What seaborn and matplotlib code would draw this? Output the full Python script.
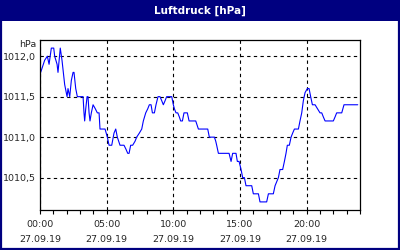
import matplotlib
matplotlib.use("Agg")
import matplotlib.pyplot as plt
import seaborn as sns
import pandas as pd
from matplotlib.patches import Rectangle
from matplotlib.ticker import MultipleLocator

hours = [0.05, 0.35, 0.55, 0.68, 0.85, 1.03, 1.1, 1.28, 1.35, 1.52, 1.65, 1.75, 1.85,
         2.03, 2.1, 2.23, 2.35, 2.48, 2.55, 2.68, 2.8, 3.23, 3.3, 3.35, 3.43, 3.53, 3.6,
         3.68, 3.75, 3.85, 3.98, 4.15, 4.3, 4.43, 4.5, 4.88, 5.05, 5.18, 5.38, 5.55, 5.68,
         5.8, 6.0, 6.3, 6.45, 6.58, 6.68, 6.8, 6.95, 7.13, 7.25, 7.45, 7.63, 7.75, 7.93,
         8.08, 8.2, 8.33, 8.43, 8.58, 8.7, 8.85, 9.0, 9.13, 9.25, 9.38, 9.5, 9.88, 10.0,
         10.08, 10.2, 10.33, 10.45, 10.55, 10.68, 10.8, 11.05, 11.18, 11.68, 11.78, 11.88,
         12.58, 12.7, 13.08, 13.18, 13.25, 13.38, 14.18, 14.33, 14.45, 14.7, 14.8, 14.93,
         15.08, 15.2, 15.33, 15.45, 15.88, 16.0, 16.38, 16.5, 17.0, 17.13, 17.5, 17.63,
         17.88, 18.0, 18.2, 18.33, 18.45, 18.55, 18.7, 18.83, 18.95, 19.08, 19.38, 19.5,
         19.63, 19.75, 19.88, 20.05, 20.18, 20.3, 20.43, 20.63, 21.0, 21.13, 21.25, 21.38,
         22.0, 22.13, 22.25, 22.63, 22.8, 23.83]
pressure = [1011.8, 1011.95, 1012.0, 1011.9, 1012.1, 1012.1, 1012.0, 1011.9, 1011.8, 1012.1,
            1011.95, 1011.8, 1011.65, 1011.5, 1011.6, 1011.5, 1011.7, 1011.8, 1011.8, 1011.6,
            1011.5, 1011.5, 1011.3, 1011.2, 1011.35, 1011.5, 1011.5, 1011.3, 1011.2, 1011.3,
            1011.4, 1011.35, 1011.3, 1011.3, 1011.1, 1011.1, 1011.0, 1010.9, 1010.9, 1011.05,
            1011.1, 1011.0, 1010.9, 1010.9, 1010.85, 1010.8, 1010.8, 1010.9, 1010.9, 1010.95,
            1011.0, 1011.05, 1011.1, 1011.2, 1011.3, 1011.35, 1011.4, 1011.4, 1011.3, 1011.3,
            1011.4, 1011.5, 1011.5, 1011.45, 1011.4, 1011.45, 1011.5, 1011.5, 1011.4, 1011.35,
            1011.3, 1011.3, 1011.25, 1011.2, 1011.2, 1011.3, 1011.3, 1011.2, 1011.2, 1011.15,
            1011.1, 1011.1, 1011.0, 1011.0, 1010.95, 1010.9, 1010.8, 1010.8, 1010.7, 1010.8,
            1010.8, 1010.7, 1010.7, 1010.6, 1010.5, 1010.5, 1010.4, 1010.4, 1010.3, 1010.3,
            1010.2, 1010.2, 1010.3, 1010.3, 1010.4, 1010.5, 1010.6, 1010.6, 1010.7, 1010.8,
            1010.9, 1010.9, 1011.0, 1011.05, 1011.1, 1011.1, 1011.2, 1011.3, 1011.45, 1011.55,
            1011.6, 1011.6, 1011.5, 1011.4, 1011.4, 1011.3, 1011.3, 1011.25, 1011.2, 1011.2,
            1011.25, 1011.3, 1011.3, 1011.4, 1011.4]

x_ticks = [0, 5, 10, 15, 20]
x_labels = ["00:00\n27.09.19", "05:00\n27.09.19", "10:00\n27.09.19",
            "15:00\n27.09.19", "20:00\n27.09.19"]
y_ticks = [1010.5, 1011.0, 1011.5, 1012.0]
y_labels = ["1010,5", "1011,0", "1011,5", "1012,0"]
title = "Luftdruck [hPa]"
unit = "hPa"

sns.set_style("white")
plt.rcParams['font.family'] = ['DejaVu Sans']

navy = "#000080"
df = pd.DataFrame({"h": hours, "p": pressure})

fig = plt.figure(figsize=(4, 2.5), dpi=100)
fig.patch.set_facecolor("white")
ax = fig.add_axes([0.1, 0.16, 0.8, 0.68])

sns.lineplot(data=df, x="h", y="p", ax=ax, color="#0000FF", linewidth=0.8)

ax.set_xlim(0, 24)
ax.set_ylim(1010.1, 1012.2)
ax.set_xticks(x_ticks)
ax.set_xticklabels(x_labels, fontsize=6.8, linespacing=1.9)
ax.xaxis.set_minor_locator(MultipleLocator(1))
ax.set_yticks(y_ticks)
ax.set_yticklabels(y_labels, fontsize=6.8)
ax.tick_params(axis="x", which="both", direction="out", length=3, width=0.8,
               color="black", pad=4, bottom=True)
ax.tick_params(axis="y", length=0, pad=3)
ax.set_xlabel("")
ax.set_ylabel("")
ax.grid(True, color="black", linestyle=(0, (3, 3)), linewidth=0.8)
for s in ax.spines.values():
    s.set_visible(True)
    s.set_color("black")
    s.set_linewidth(0.9)
ax.set_facecolor("white")

ax.text(-0.012, 1.0, unit, transform=ax.transAxes, ha="right", va="top",
        fontsize=6.8)

# title bar
fig.patches.append(Rectangle((0, 1 - 21 / 250), 1, 21 / 250, transform=fig.transFigure,
                             facecolor=navy, edgecolor="none", zorder=0))
fig.patches.append(Rectangle((0.002, 0.004), 0.996, 0.996, transform=fig.transFigure,
                             facecolor="none", edgecolor=navy, linewidth=1.6, zorder=5))
fig.text(0.5, 1 - 10.5 / 250, title, color="white", ha="center", va="center",
         fontsize=7.5, fontweight="bold")

fig.savefig("out.png", dpi=100)
